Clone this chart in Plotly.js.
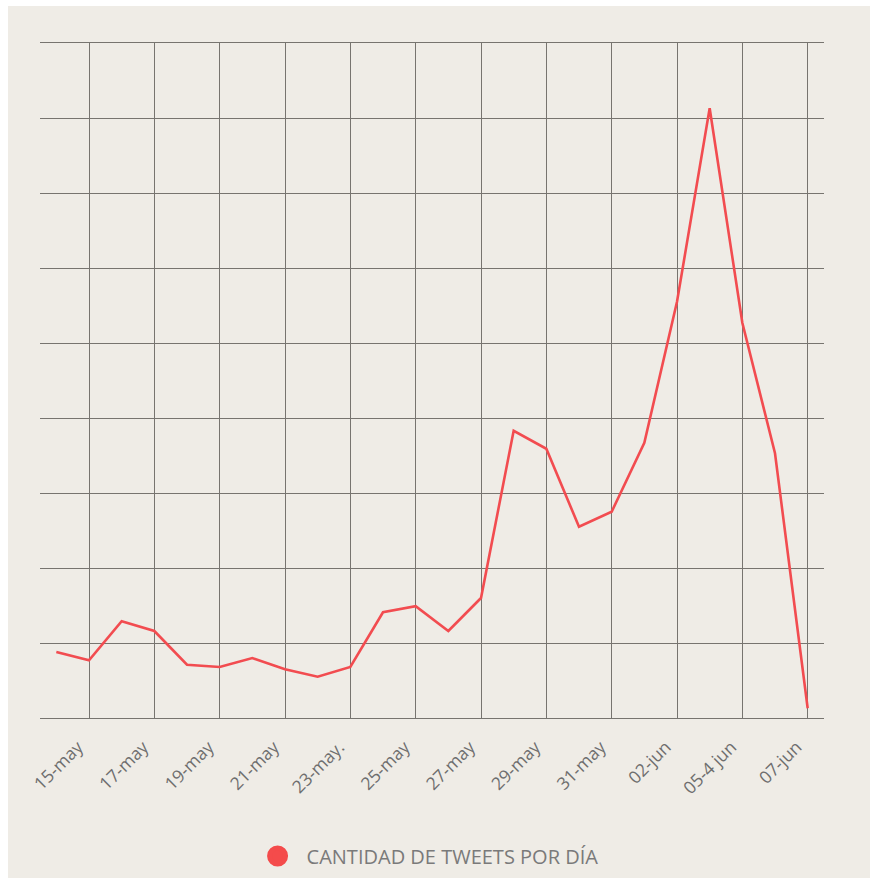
<!DOCTYPE html>
<html>
<head>
<meta charset="utf-8">
<script src="https://cdn.plot.ly/plotly-3.0.1.min.js"></script>
<style>
  html, body { margin: 0; padding: 0; background: #ffffff; }
  #wrap { width: 878px; height: 884px; box-sizing: border-box; padding: 6px 8px; background: #ffffff; }
  #chart { width: 862px; height: 872px; }
</style>
</head>
<body>
<div id="wrap"><div id="chart"></div></div>
<script>
// Categories (one per day)
const categories = ["14-may","15-may","16-may","17-may","18-may","19-may","20-may","21-may","22-may","23-may.",
  "24-may","25-may","26-may","27-may","28-may","29-may","30-may","31-may","01-jun","02-jun",
  "03-jun","05-4 jun","06-jun","07-jun"];
// Tweets per day (y axis unlabeled)
const tweets = [88, 77, 129, 116, 71, 68, 80, 65, 55, 68,
  141, 149, 116, 160, 383, 359, 255, 275, 367, 555,
  813, 527, 353, 13];
// Labelled ticks
const tickLabels = ["15-may","17-may","19-may","21-may","23-may.","25-may","27-may","29-may","31-may","02-jun","05-4 jun","07-jun"];
const seriesName = "CANTIDAD DE TWEETS POR DÍA";

const lineColor = "#f24c50";
const gridColor = "#77746f";

const traces = [
  {
    x: categories, y: tweets, type: "scatter", mode: "lines",
    line: { color: lineColor, width: 2.6 },
    showlegend: false, hoverinfo: "x+y"
  },
  {
    x: [null], y: [null], type: "scatter", mode: "markers",
    name: seriesName,
    marker: { color: "#f44b4b", size: 16, line: { color: "#f44b4b", width: 5 } },
    showlegend: true
  }
];

const layout = {
  width: 862, height: 872,
  paper_bgcolor: "#efece6",
  plot_bgcolor: "#efece6",
  margin: { l: 32, r: 46, t: 37, b: 160, autoexpand: false },
  font: { family: "Open Sans, sans-serif", color: "#6e6e6e" },
  xaxis: {
    type: "category",
    categoryorder: "array", categoryarray: categories,
    range: [-0.5, 23.5],
    tickmode: "array", tickvals: tickLabels, ticktext: tickLabels,
    tickangle: -45,
    ticklabelshift: -11,
    ticklabelstandoff: 11,
    tickfont: { size: 17.5, color: "#6e6e6e", family: "Open Sans, sans-serif" },
    showgrid: true, gridcolor: gridColor, gridwidth: 1,
    showline: true, mirror: true, linecolor: gridColor, linewidth: 1,
    zeroline: false, ticks: ""
  },
  yaxis: {
    range: [0, 900], tick0: 0, dtick: 100,
    showticklabels: false,
    showgrid: true, gridcolor: gridColor, gridwidth: 1,
    zeroline: true, zerolinecolor: gridColor, zerolinewidth: 1,
    showline: false, ticks: "", fixedrange: true
  },
  showlegend: true,
  legend: {
    orientation: "h",
    xref: "container", yref: "container",
    x: 0.485, xanchor: "center", y: 0.0252, yanchor: "middle",
    itemwidth: 48,
    font: { size: 20, color: "#7a7a7a", family: "Open Sans, sans-serif" },
    bgcolor: "rgba(0,0,0,0)"
  },
  hovermode: "closest"
};

Plotly.newPlot("chart", traces, layout, { displayModeBar: false, responsive: false });
</script>
</body>
</html>
